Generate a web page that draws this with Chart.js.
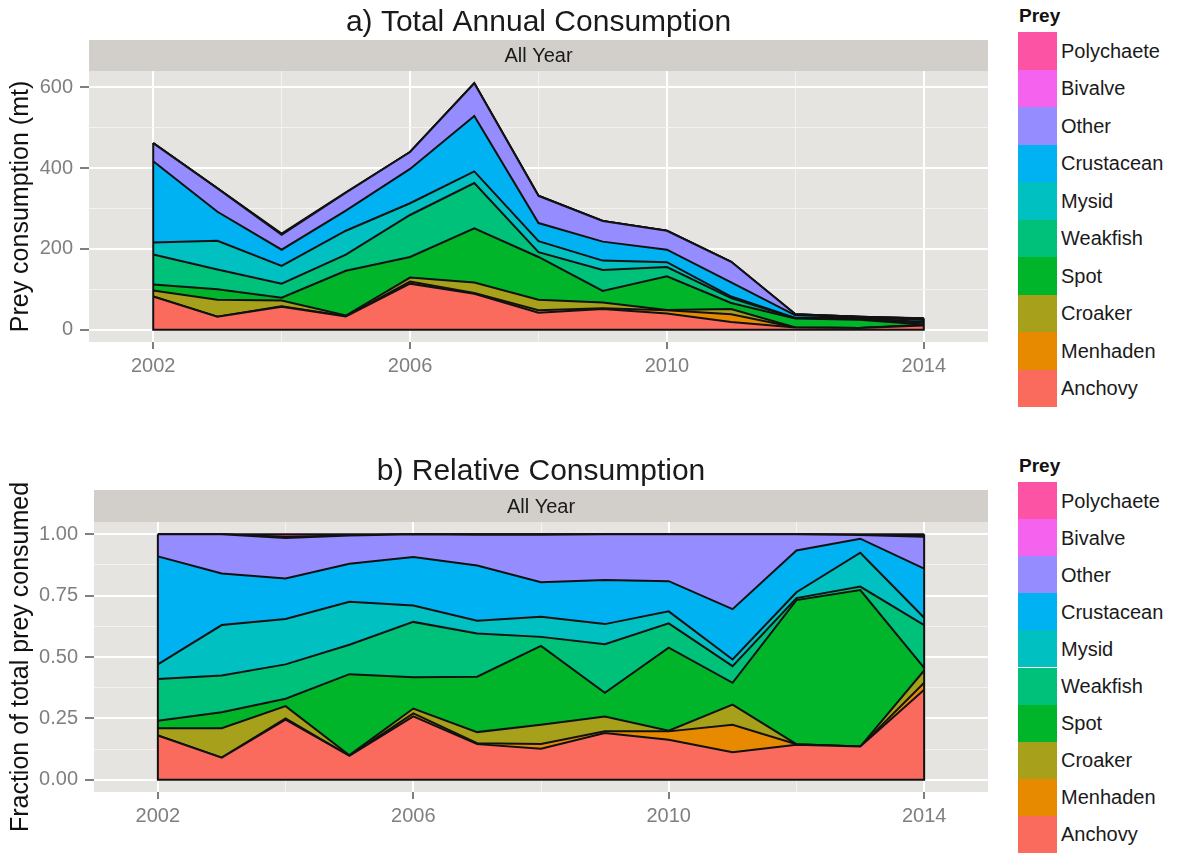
<!DOCTYPE html>
<html>
<head>
<meta charset="utf-8">
<script src="https://cdn.jsdelivr.net/npm/chart.js@4"></script>
<style>
  body { margin: 0; background: #fff; font-family: "Liberation Sans", Arial, sans-serif; }
  #wrap { position: relative; width: 1178px; height: 854px; }
  canvas { position: absolute; left: 0; }
  .legend { position: absolute; left: 1018px; }
  .legend .ttl { position: absolute; left: 1px; font-weight: bold; font-size: 19px; color: #111; line-height: 20px; }
  .legend .row { position: absolute; left: 0; width: 160px; }
  .legend .sw { position: absolute; left: 0; top: 0; width: 39px; height: 100%; }
  .legend .lab { position: absolute; left: 43px; font-size: 20px; color: #1a1a1a; white-space: nowrap; }
</style>
</head>
<body>
<div id="wrap">
  <canvas id="absChart" width="990" height="427" style="top:0"></canvas>
  <canvas id="relChart" width="990" height="427" style="top:427px"></canvas>
  <div id="legA" class="legend" style="top:0"></div>
  <div id="legB" class="legend" style="top:450px"></div>
</div>
<script>
/* ---- data ---- */
const years = [2002, 2003, 2004, 2005, 2006, 2007, 2008, 2009, 2010, 2011, 2012, 2013, 2014];
const prey = ['Anchovy', 'Menhaden', 'Croaker', 'Spot', 'Weakfish', 'Mysid', 'Crustacean', 'Other', 'Bivalve', 'Polychaete'];
const preyColors = ['#FA6B5E', '#E88A00', '#A6A01A', '#00B52A', '#00C17A', '#00C0C2', '#00B2F2', '#958CFF', '#F462EE', '#FD53A5'];

// a) total annual consumption (mt)
const anchovyMt    = [82, 32, 57, 33, 114, 89, 42, 51, 40, 19, 5.4, 4.3, 10.3];
const menhadenMt   = [0, 0, 1, 0, 5, 2, 6, 2, 8, 19, 0.1, 0, 0.8];
const croakerMt    = [15, 42, 14, 2, 10, 26, 26, 14, 1, 13, 0, 0, 1.4];
const spotMt       = [15, 26, 7, 111, 51, 134, 106, 29, 83, 15, 22.4, 20.4, 0.3];
const weakfishMt   = [74, 49, 35, 40, 104, 112, 12, 52, 23, 12, 0.3, 0.5, 4.8];
const mysidMt      = [30, 71, 44, 59, 29, 29, 27, 23, 12, 4, 0.9, 4.4, 0.9];
const crustaceanMt = [201, 72, 40, 50, 85, 137, 45, 47, 31, 35, 6.5, 1.8, 5.6];
const otherMt      = [45, 58, 37, 44, 42, 81, 67, 51, 47, 51, 2.5, 0.6, 3.6];
const bivalveMt    = [0, 0, 1, 0, 0, 0.5, 0.5, 0, 0, 0, 0, 0, 0.1];
const polychaeteMt = [0, 0, 2, 1, 0, 0, 0, 0, 0, 0, 0, 0.1, 0.2];

// b) relative consumption (fraction of total)
const anchovyFr    = [.18, .09, .245, .097, .258, .145, .126, .19, .163, .112, .142, .135, .367];
const menhadenFr   = [0, 0, .005, 0, .012, .004, .02, .007, .034, .112, .003, 0, .028];
const croakerFr    = [.03, .12, .05, .003, .02, .045, .078, .061, .003, .082, 0, 0, .05];
const spotFr       = [.03, .065, .03, .33, .128, .226, .321, .096, .338, .089, .587, .638, .011];
const weakfishFr   = [.17, .15, .14, .12, .225, .176, .037, .198, .099, .068, .008, .014, .174];
const mysidFr      = [.06, .205, .185, .175, .067, .052, .082, .082, .049, .027, .024, .138, .03];
const crustaceanFr = [.44, .21, .165, .155, .197, .225, .141, .18, .123, .205, .17, .057, .2];
const otherFr      = [.09, .16, .165, .115, .093, .125, .193, .186, .191, .305, .066, .015, .13];
const bivalveFr    = [0, 0, .005, 0, 0, .002, .002, 0, 0, 0, 0, 0, .004];
const polychaeteFr = [0, 0, .01, .005, 0, 0, 0, 0, 0, 0, 0, .003, .006];

const xMajor = [2002, 2006, 2010, 2014];
const xTicks = [2002, 2004, 2006, 2008, 2010, 2012, 2014];
const yTicksA = [0, 100, 200, 300, 400, 500, 600];
const yTicksB = [0, 0.125, 0.25, 0.375, 0.5, 0.625, 0.75, 0.875, 1];

Chart.defaults.font.family = '"Liberation Sans", Arial, sans-serif';
Chart.defaults.color = '#7f7f7f';

/* ---- panel background, strip, title and polygon edges ---- */
const ggPanel = {
  id: 'ggPanel',
  beforeDraw(chart, args, o) {
    const { ctx, chartArea: a } = chart;
    ctx.save();
    ctx.fillStyle = '#E6E4E1';
    ctx.fillRect(a.left, a.top, a.right - a.left, a.bottom - a.top);
    ctx.fillStyle = '#D2CFCB';
    ctx.fillRect(a.left, a.top - o.stripH, a.right - a.left, o.stripH);
    ctx.fillStyle = '#1a1a1a';
    ctx.textAlign = 'center';
    ctx.textBaseline = 'middle';
    ctx.font = '20px "Liberation Sans", Arial, sans-serif';
    ctx.fillText(o.strip, (a.left + a.right) / 2, a.top - o.stripH / 2 + 1);
    ctx.font = '30px "Liberation Sans", Arial, sans-serif';
    ctx.fillText(o.title, (a.left + a.right) / 2, o.titleY);
    ctx.restore();
  },
  afterDatasetsDraw(chart) {
    const { ctx } = chart;
    const ys = chart.scales.y, xs = chart.scales.x;
    const top = chart.getDatasetMeta(chart.data.datasets.length - 1).data;
    const y0 = ys.getPixelForValue(0);
    ctx.save();
    ctx.strokeStyle = '#111';
    ctx.lineWidth = 2;
    ctx.beginPath();
    ctx.moveTo(top[0].x, top[0].y);
    ctx.lineTo(xs.getPixelForValue(years[0]), y0);
    ctx.lineTo(xs.getPixelForValue(years[years.length - 1]), y0);
    ctx.lineTo(top[top.length - 1].x, top[top.length - 1].y);
    ctx.stroke();
    ctx.restore();
  }
};

function makeSets(series) {
  return series.map((vals, i) => ({
    label: prey[i],
    data: years.map((yr, k) => ({ x: yr, y: vals[k] })),
    backgroundColor: preyColors[i],
    borderColor: '#111',
    borderWidth: 2,
    pointRadius: 0,
    tension: 0,
    fill: i === 0 ? 'origin' : '-1'
  }));
}

function gridOpts(isMajor) {
  return {
    color: c => isMajor(c.tick.value) ? '#FFFFFF' : '#F4F3F1',
    lineWidth: c => isMajor(c.tick.value) ? 2 : 1,
    tickColor: c => isMajor(c.tick.value) ? '#7f7f7f' : 'rgba(0,0,0,0)',
    tickWidth: 2
  };
}

function buildChart(id, series, cfg) {
  return new Chart(document.getElementById(id), {
    type: 'line',
    data: { datasets: makeSets(series) },
    plugins: [ggPanel],
    options: {
      responsive: false,
      animation: false,
      layout: { padding: { top: cfg.padTop, right: 2, left: 0, bottom: 0 } },
      plugins: {
        legend: { display: false },
        tooltip: { enabled: false },
        ggPanel: { title: cfg.title, strip: 'All Year', stripH: cfg.stripH, titleY: cfg.titleY }
      },
      scales: {
        x: {
          type: 'linear', min: 2001, max: 2015,
          afterBuildTicks: s => { s.ticks = xTicks.map(v => ({ value: v })); },
          afterFit: s => { s.height = cfg.xH; },
          grid: Object.assign(gridOpts(v => xMajor.includes(v)), { tickLength: 7 }),
          border: { display: false },
          ticks: {
            autoSkip: false, maxRotation: 0, padding: 5,
            font: { size: 20 }, color: '#7f7f7f',
            callback: v => xMajor.includes(v) ? String(v) : ''
          }
        },
        y: {
          type: 'linear', stacked: true, min: cfg.yMin, max: cfg.yMax,
          afterBuildTicks: s => { s.ticks = cfg.yTicks.map(v => ({ value: v })); },
          afterFit: s => { s.width = cfg.yW; },
          grid: Object.assign(gridOpts(cfg.yMajor), { tickLength: 9 }),
          border: { display: false },
          ticks: {
            autoSkip: false, padding: 7,
            font: { size: 20 }, color: '#7f7f7f',
            callback: v => cfg.yMajor(v) ? cfg.fmt(v) : ''
          },
          title: {
            display: true, text: cfg.yTitle, color: '#111',
            font: { size: 25 }, padding: { top: 6, bottom: 0 }
          }
        }
      }
    }
  });
}

buildChart('absChart',
  [anchovyMt, menhadenMt, croakerMt, spotMt, weakfishMt, mysidMt, crustaceanMt, otherMt, bivalveMt, polychaeteMt],
  {
    title: 'a) Total Annual Consumption', titleY: 23, stripH: 31, padTop: 71,
    xH: 85, yW: 89, yMin: -30.5, yMax: 640.5, yTicks: yTicksA,
    yMajor: v => v % 200 === 0, fmt: v => String(v),
    yTitle: 'Prey consumption (mt)'
  });

buildChart('relChart',
  [anchovyFr, menhadenFr, croakerFr, spotFr, weakfishFr, mysidFr, crustaceanFr, otherFr, bivalveFr, polychaeteFr],
  {
    title: 'b) Relative Consumption', titleY: 45, stripH: 32, padTop: 95,
    xH: 62, yW: 94, yMin: -0.05, yMax: 1.05, yTicks: yTicksB,
    yMajor: v => Math.abs(v * 4 - Math.round(v * 4)) < 1e-9, fmt: v => v.toFixed(2),
    yTitle: 'Fraction of total prey consumed'
  });

/* ---- ggplot-style legends (top entry = last series) ---- */
function buildLegend(id, titleTop, first, rowH) {
  const el = document.getElementById(id);
  let html = '<div class="ttl" style="top:' + titleTop + 'px">Prey</div>';
  for (let r = 0; r < prey.length; r++) {
    const i = prey.length - 1 - r;
    const top = first + r * rowH;
    html += '<div class="row" style="top:' + top.toFixed(1) + 'px;height:' + rowH + 'px">' +
      '<div class="sw" style="background:' + preyColors[i] + '"></div>' +
      '<div class="lab" style="top:' + (rowH / 2 - 11) + 'px">' + prey[i] + '</div></div>';
  }
  el.innerHTML = html;
}
buildLegend('legA', 6, 32, 37.5);
buildLegend('legB', 6, 32, 37.1);
</script>
</body>
</html>
